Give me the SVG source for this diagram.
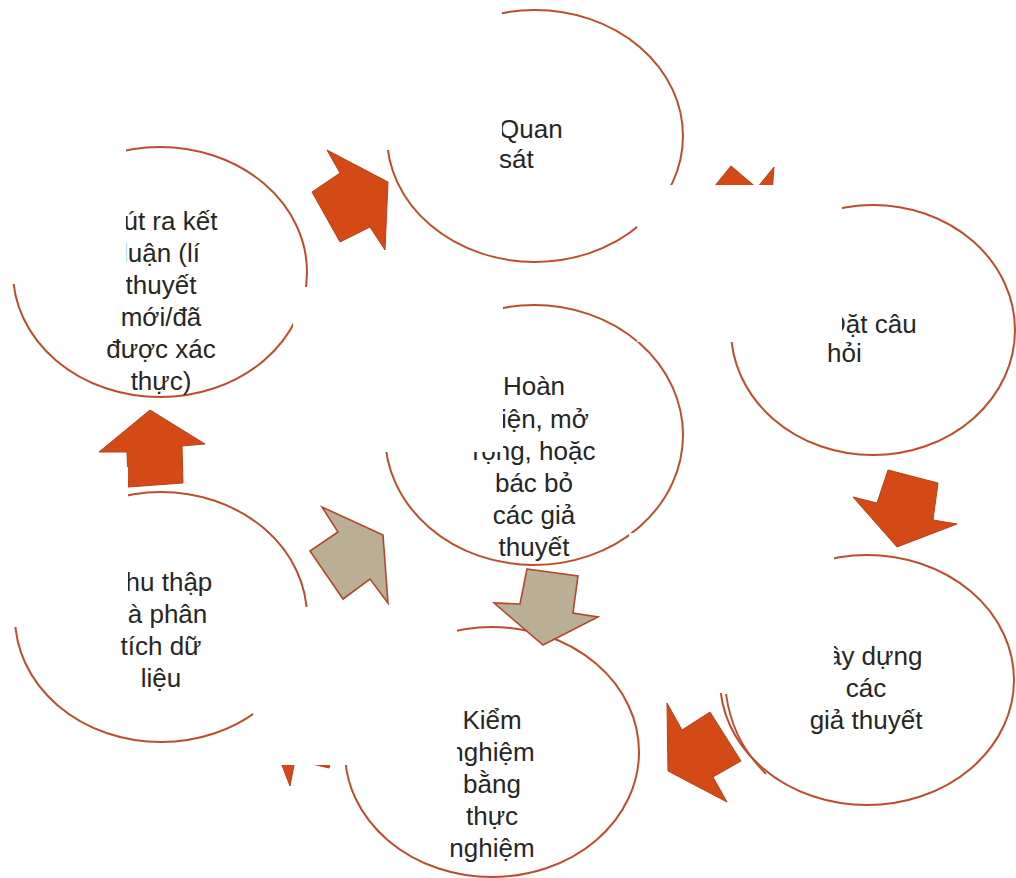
<svg xmlns="http://www.w3.org/2000/svg" width="1016" height="878" viewBox="0 0 1016 878">
<defs>
<style>
.node ellipse{fill:#fff;stroke:#BC4E2E;stroke-width:2}
.t{font-family:"Liberation Sans",Arial,sans-serif;font-size:26px;fill:#262626}
.c{text-anchor:middle}
.s{text-anchor:start}
.org{fill:#D34A17;stroke:#B5411A;stroke-width:1;stroke-linejoin:miter}
.tan{fill:#BAAF94;stroke:#B2472A;stroke-width:1.6;stroke-linejoin:miter}
.occ{fill:#fff;stroke:none}
.extra{fill:none;stroke:#BC4E2E;stroke-width:1.8}
</style>
</defs>
<rect width="1016" height="878" fill="#fff"/>

<g id="node-quan-sat" class="node">
<ellipse cx="535" cy="136" rx="148" ry="126"/>
<text class="t s"><tspan x="499" y="138">Quan</tspan><tspan x="499" y="168">sát</tspan></text>
</g>

<g id="node-rut-ra" class="node">
<ellipse cx="160" cy="272" rx="147" ry="125"/>
<text class="t c"><tspan x="161" y="230">Rút ra kết</tspan><tspan x="161" y="262">luận (lí</tspan><tspan x="161" y="294">thuyết</tspan><tspan x="161" y="326">mới/đã</tspan><tspan x="161" y="358">được xác</tspan><tspan x="161" y="390">thực)</tspan></text>
</g>

<g id="node-dat-cau-hoi" class="node">
<ellipse cx="873" cy="330" rx="142" ry="125"/>
<text class="t s"><tspan x="827" y="333">Đặt câu</tspan><tspan x="827" y="362">hỏi</tspan></text>
</g>

<g id="node-hoan-thien" class="node">
<ellipse cx="534" cy="435" rx="149" ry="130"/>
<text class="t c"><tspan x="534" y="395">Hoàn</tspan><tspan x="534" y="428">thiện, mở</tspan><tspan x="534" y="460">rộng, hoặc</tspan><tspan x="534" y="492">bác bỏ</tspan><tspan x="534" y="524">các giả</tspan><tspan x="534" y="556">thuyết</tspan></text>
</g>

<g id="node-thu-thap" class="node">
<ellipse cx="161" cy="617" rx="146" ry="125"/>
<text class="t c"><tspan x="161" y="591">Thu thập</tspan><tspan x="161" y="623">và phân</tspan><tspan x="161" y="655">tích dữ</tspan><tspan x="161" y="687">liệu</tspan></text>
</g>

<g id="node-xay-dung" class="node">
<ellipse cx="867" cy="680" rx="147" ry="125"/>
<path class="extra" d="M 726,694 C 730,722 740,748 766,774"/>
<text class="t c"><tspan x="866" y="665">Xây dựng</tspan><tspan x="866" y="697">các</tspan><tspan x="866" y="729">giả thuyết</tspan></text>
</g>

<g id="node-kiem-nghiem" class="node">
<ellipse cx="492" cy="752" rx="147" ry="125"/>
<text class="t c"><tspan x="492" y="729">Kiểm</tspan><tspan x="492" y="761">nghiệm</tspan><tspan x="492" y="793">bằng</tspan><tspan x="492" y="825">thực</tspan><tspan x="492" y="857">nghiệm</tspan></text>
</g>

<g id="connectors">
<polygon class="org" points="388,182 327,150 340,173 312,192 340,242 370,227 385,250"/>
<polygon class="org" points="731,166 696,209 723,231 706,252 769,233 774,167 757,188"/>
<polygon class="org" points="888,470 938,483 933,520 957,524 897,547 853,497 877,503"/>
<polygon class="org" points="667,703 682,730 710,712 741,761 713,777 727,802 668,771"/>
<polygon class="org" points="266,724 315,680 309,706 343,715 329,768 295,760 290,786"/>
<polygon class="org" points="150,410 205,444 182,446 183,483 128,487 127,452 99,452"/>
<polygon class="tan" points="383,535 322,507 338,532 310,551 343,599 370,579 388,603"/>
<polygon class="tan" points="527,569 578,576 573,613 598,617 543,645 494,603 520,604"/>
</g>

<g id="text-boxes">
<rect class="occ" x="360" y="0" width="142" height="150"/>
<rect class="occ" x="0" y="124" width="126" height="160"/>
<rect class="occ" x="293" y="287" width="210" height="165"/>
<rect class="occ" x="637" y="185" width="205" height="157"/>
<rect class="occ" x="0" y="467" width="128" height="160"/>
<rect class="occ" x="629" y="533" width="205" height="160"/>
<rect class="occ" x="253" y="607" width="204" height="158"/>
</g>
</svg>
